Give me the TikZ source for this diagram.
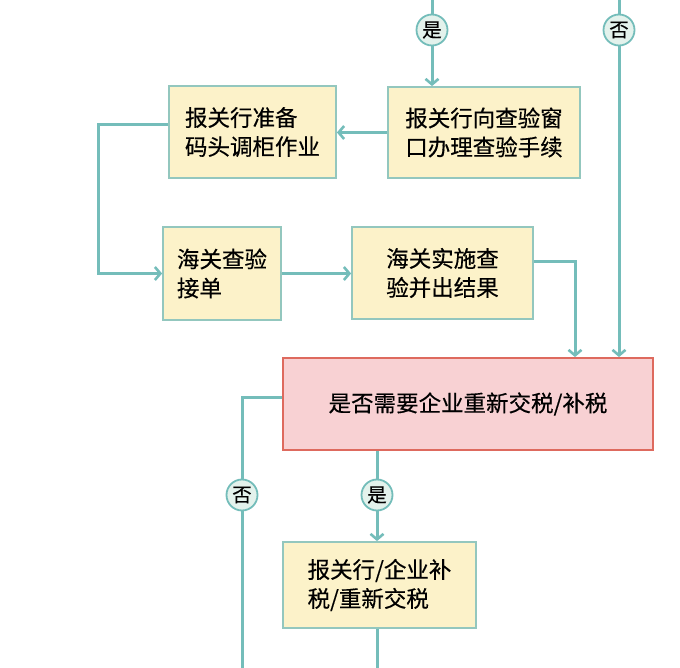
\documentclass[tikz,border=0pt]{standalone}
\usepackage{fontspec}
\newfontfamily\cjk{Noto Sans CJK SC}[FakeBold=0.4]
\usetikzlibrary{arrows.meta,calc}
\definecolor{lineteal}{HTML}{74BDBA}
\definecolor{boxfill}{HTML}{FCF2C9}
\definecolor{boxedge}{HTML}{93C7BE}
\definecolor{redfill}{HTML}{F8D1D3}
\definecolor{rededge}{HTML}{DE6A5E}
\definecolor{circfill}{HTML}{E3F2EC}
\begin{document}
\begin{tikzpicture}[x=1pt,y=-1pt,
  stepbox/.style={draw=boxedge,line width=1.8pt,fill=boxfill,inner sep=0pt,
    font=\cjk\fontsize{22.5}{29}\selectfont,align=left},
  redbox/.style={draw=rededge,line width=1.8pt,fill=redfill,inner sep=0pt,
    font=\cjk\fontsize{22.5}{29}\selectfont},
  tag/.style={circle,draw=lineteal,line width=1.8pt,fill=circfill,minimum size=31pt,
    inner sep=0pt,font=\cjk\fontsize{19.5}{20}\selectfont},
  conn/.style={draw=lineteal,line width=3pt},
  arr/.style={conn,-{Straight Barb[length=5.5pt,width=13pt,line width=2.6pt]}}]
\useasboundingbox (0,0) rectangle (680,668);
\fill[white] (0,0) rectangle (680,668);
% boxes
\node[stepbox,minimum width=192pt,minimum height=91pt] (A) at (484,132.5) {报关行向查验窗\\口办理查验手续};
\node[stepbox,minimum width=167pt,minimum height=92pt] (B) at (252.5,132) {报关行准备\\码头调柜作业};
\node[stepbox,minimum width=118pt,minimum height=93pt] (C) at (222,273.5) {海关查验\\接单\phantom{查验}};
\node[stepbox,minimum width=181pt,minimum height=92pt] (D) at (442.5,273) {海关实施查\\验并出结果};
\node[redbox,minimum width=370pt,minimum height=92pt] (E) at (468,404) {是否需要企业重新交税/补税};
\node[stepbox,minimum width=193pt,minimum height=86pt] (F) at (379.5,585) {报关行/企业补\\税/重新交税};
% tags
\node[tag] (c1) at (432,30) {是};
\node[tag] (c2) at (619,30) {否};
\node[tag] (c3) at (242,495) {否};
\node[tag] (c4) at (377,495) {是};
% free ends
\coordinate (t1) at (432,0);
\coordinate (t2) at (619,0);
\coordinate (b1) at (98,125);
\coordinate (d1) at (575,262);
\coordinate (e1) at (242,397);
\coordinate (z1) at (242,668);
\coordinate (z2) at (377,668);
% connectors
\draw[conn] (t1) -- (c1);
\draw[arr] (c1) -- (c1 |- A.north);
\draw[conn] (t2) -- (c2);
\draw[arr] (c2) -- (c2 |- E.north);
\draw[arr] (A.west) -- (A.west -| B.east);
\draw[arr] (B.west |- b1) -- (b1) -- (b1 |- C.west) -- (C.west);
\draw[arr] (C.east) -- (C.east -| D.west);
\draw[arr] (D.east |- d1) -- (d1) -- (d1 |- E.north);
\draw[conn] (E.west |- e1) -- (e1) -- (c3);
\draw[conn] (c3) -- (z1);
\draw[conn] (c4 |- E.south) -- (c4);
\draw[arr] (c4) -- (c4 |- F.north);
\draw[conn] (c4 |- F.south) -- (z2);
\end{tikzpicture}
\end{document}
